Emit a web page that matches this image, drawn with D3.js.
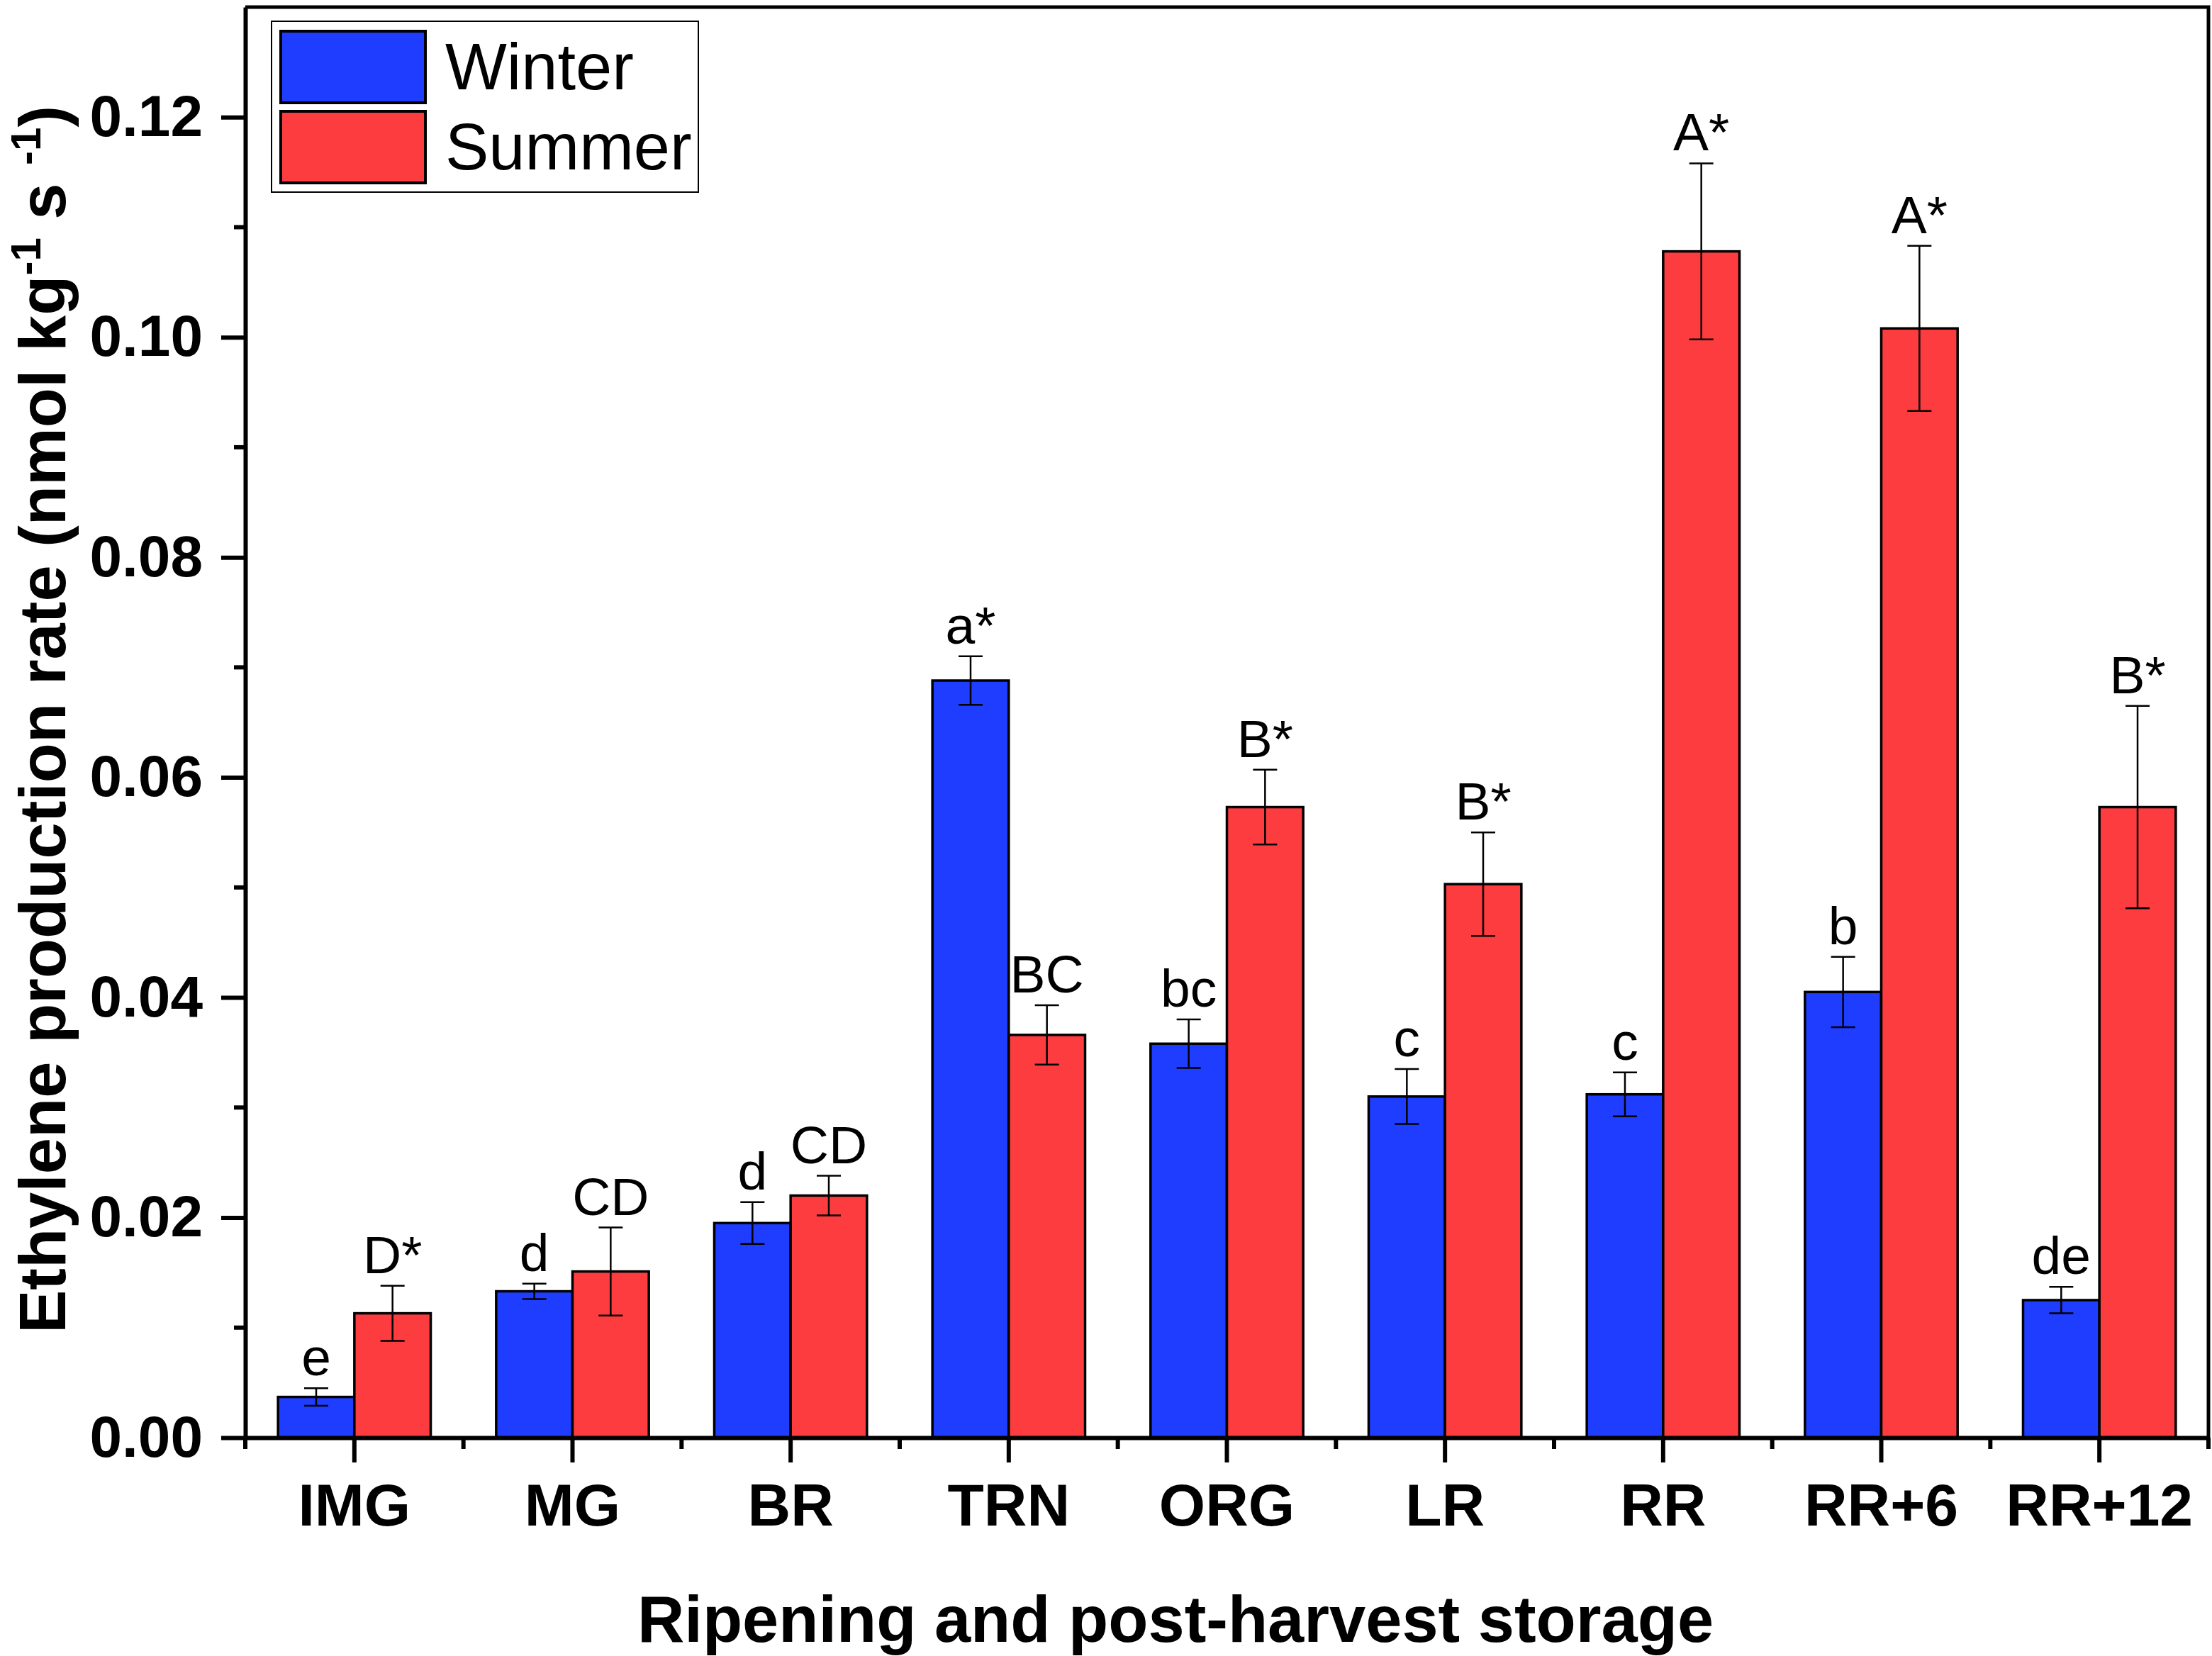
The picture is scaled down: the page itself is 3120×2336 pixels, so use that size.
<!DOCTYPE html>
<html>
<head>
<meta charset="utf-8">
<script src="https://cdn.jsdelivr.net/npm/d3@7"></script>
<style>
  body { margin: 0; background: #fff; }
  svg { display: block; }
  text { font-family: "Liberation Sans", Arial, sans-serif; fill: #000; }
</style>
</head>
<body>
<svg id="chart"></svg>
<script>
// data
const categories = ['IMG', 'MG', 'BR', 'TRN', 'ORG', 'LR', 'RR', 'RR+6', 'RR+12'];
const seriesNames = ['Winter', 'Summer'];
const seriesColors = ['#1f3dff', '#fc3c3e'];

const winter    = [0.0037, 0.0133, 0.0195, 0.0688, 0.0358, 0.0310, 0.0312, 0.0405, 0.0125];
const winterErr = [0.0008, 0.0007, 0.0019, 0.0022, 0.0022, 0.0025, 0.0020, 0.0032, 0.0012];
const summer    = [0.0113, 0.0151, 0.0220, 0.0366, 0.0573, 0.0503, 0.1078, 0.1008, 0.0573];
const summerErr = [0.0025, 0.0040, 0.0018, 0.0027, 0.0034, 0.0047, 0.0080, 0.0075, 0.0092];

const winterLetters = ['e', 'd', 'd', 'a*', 'bc', 'c', 'c', 'b', 'de'];
const summerLetters = ['D*', 'CD', 'CD', 'BC', 'B*', 'B*', 'A*', 'A*', 'B*'];

const yTicks = [0, 0.02, 0.04, 0.06, 0.08, 0.10, 0.12];
const yMinorTicks = [0.01, 0.03, 0.05, 0.07, 0.09, 0.11];

const W = 3120, H = 2336;
const plot = { left: 346, right: 3115, top: 10, bottom: 2028 };

const svg = d3.select('#chart').attr('width', W).attr('height', H);

const x = d3.scaleBand()
  .domain(categories)
  .range([plot.left, plot.right])
  .paddingInner(0.3)
  .paddingOuter(0.15);

const xSub = d3.scaleBand()
  .domain(seriesNames)
  .range([0, x.bandwidth()])
  .padding(0);

const y = d3.scaleLinear()
  .domain([0, 0.13])
  .range([plot.bottom, plot.top]);

// build rows for bars
const rows = [];
categories.forEach((c, i) => {
  rows.push({ cat: c, s: 'Winter', v: winter[i], e: winterErr[i], lab: winterLetters[i] });
  rows.push({ cat: c, s: 'Summer', v: summer[i], e: summerErr[i], lab: summerLetters[i] });
});
const color = d3.scaleOrdinal().domain(seriesNames).range(seriesColors);

// bars
svg.append('g').selectAll('rect')
  .data(rows)
  .join('rect')
  .attr('x', d => x(d.cat) + xSub(d.s))
  .attr('y', d => y(d.v))
  .attr('width', xSub.bandwidth())
  .attr('height', d => y(0) - y(d.v))
  .attr('fill', d => color(d.s))
  .attr('stroke', '#000')
  .attr('stroke-width', 3.5);

// error bars
const cx = d => x(d.cat) + xSub(d.s) + xSub.bandwidth() / 2;
const capW = 17;
const eb = svg.append('g').attr('stroke', '#000').attr('stroke-width', 2.5);
eb.selectAll('.stem').data(rows).join('line')
  .attr('x1', cx).attr('x2', cx)
  .attr('y1', d => y(d.v + d.e)).attr('y2', d => y(d.v - d.e));
eb.selectAll('.capT').data(rows).join('line')
  .attr('x1', d => cx(d) - capW).attr('x2', d => cx(d) + capW)
  .attr('y1', d => y(d.v + d.e)).attr('y2', d => y(d.v + d.e));
eb.selectAll('.capB').data(rows).join('line')
  .attr('x1', d => cx(d) - capW).attr('x2', d => cx(d) + capW)
  .attr('y1', d => y(d.v - d.e)).attr('y2', d => y(d.v - d.e));

// significance letters
svg.append('g').selectAll('text')
  .data(rows)
  .join('text')
  .attr('x', cx)
  .attr('y', d => y(d.v + d.e) - 18)
  .attr('text-anchor', 'middle')
  .attr('font-size', 75)
  .text(d => d.lab);

// y axis
const yAxis = d3.axisLeft(y)
  .tickValues(yTicks)
  .tickSize(34)
  .tickPadding(26)
  .tickSizeOuter(0)
  .tickFormat(d3.format('.2f'));
const gy = svg.append('g')
  .attr('transform', `translate(${plot.left},0)`)
  .call(yAxis);
gy.select('.domain').attr('stroke-width', 6);
gy.selectAll('.tick line').attr('stroke-width', 6);
gy.selectAll('.tick text')
  .attr('font-size', 82)
  .attr('font-weight', 'bold')
  .attr('font-family', '"Liberation Sans", Arial, sans-serif');

svg.append('g').selectAll('line')
  .data(yMinorTicks)
  .join('line')
  .attr('x1', plot.left - 16).attr('x2', plot.left)
  .attr('y1', d => y(d)).attr('y2', d => y(d))
  .attr('stroke', '#000').attr('stroke-width', 6);

// x axis
const xAxis = d3.axisBottom(x)
  .tickSize(35)
  .tickPadding(29)
  .tickSizeOuter(0);
const gx = svg.append('g')
  .attr('transform', `translate(0,${plot.bottom})`)
  .call(xAxis);
gx.select('.domain').attr('stroke-width', 6);
gx.selectAll('.tick line').attr('stroke-width', 6);
gx.selectAll('.tick text')
  .attr('font-size', 84)
  .attr('font-weight', 'bold')
  .attr('font-family', '"Liberation Sans", Arial, sans-serif');

// minor ticks at category boundaries
const boundaries = d3.range(categories.length + 1).map(i => plot.left + i * x.step());
svg.append('g').selectAll('line')
  .data(boundaries)
  .join('line')
  .attr('x1', d => d).attr('x2', d => d)
  .attr('y1', plot.bottom).attr('y2', plot.bottom + 16)
  .attr('stroke', '#000').attr('stroke-width', 6);

// top and right frame
svg.append('path')
  .attr('d', `M${plot.left},${plot.top}H${plot.right}V${plot.bottom}`)
  .attr('fill', 'none')
  .attr('stroke', '#000')
  .attr('stroke-width', 5);

// axis titles
svg.append('text')
  .attr('x', 1658)
  .attr('y', 2316)
  .attr('text-anchor', 'middle')
  .attr('font-size', 92)
  .attr('font-weight', 'bold')
  .text('Ripening and post-harvest storage');

const yt = svg.append('text')
  .attr('transform', 'translate(92,1015) rotate(-90)')
  .attr('text-anchor', 'middle')
  .attr('font-size', 92)
  .attr('font-weight', 'bold');
yt.append('tspan').text('Ethylene production rate (nmol kg');
yt.append('tspan').attr('dy', -35).attr('font-size', 60).text('-1');
yt.append('tspan').attr('dy', 35).text(' s ');
yt.append('tspan').attr('dy', -35).attr('font-size', 60).text('-1');
yt.append('tspan').attr('dy', 35).text(')');

// legend
const lg = svg.append('g');
lg.append('rect')
  .attr('x', 383).attr('y', 30)
  .attr('width', 602).attr('height', 241)
  .attr('fill', '#fff')
  .attr('stroke', '#000')
  .attr('stroke-width', 2);
const items = lg.selectAll('g.item')
  .data(seriesNames)
  .join('g')
  .attr('transform', (d, i) => `translate(0,${i * 113})`);
items.append('rect')
  .attr('x', 396).attr('y', 44)
  .attr('width', 204).attr('height', 101)
  .attr('fill', d => color(d))
  .attr('stroke', '#000')
  .attr('stroke-width', 4);
items.append('text')
  .attr('x', 628).attr('y', 126)
  .attr('font-size', 92)
  .text(d => d);
</script>
</body>
</html>
